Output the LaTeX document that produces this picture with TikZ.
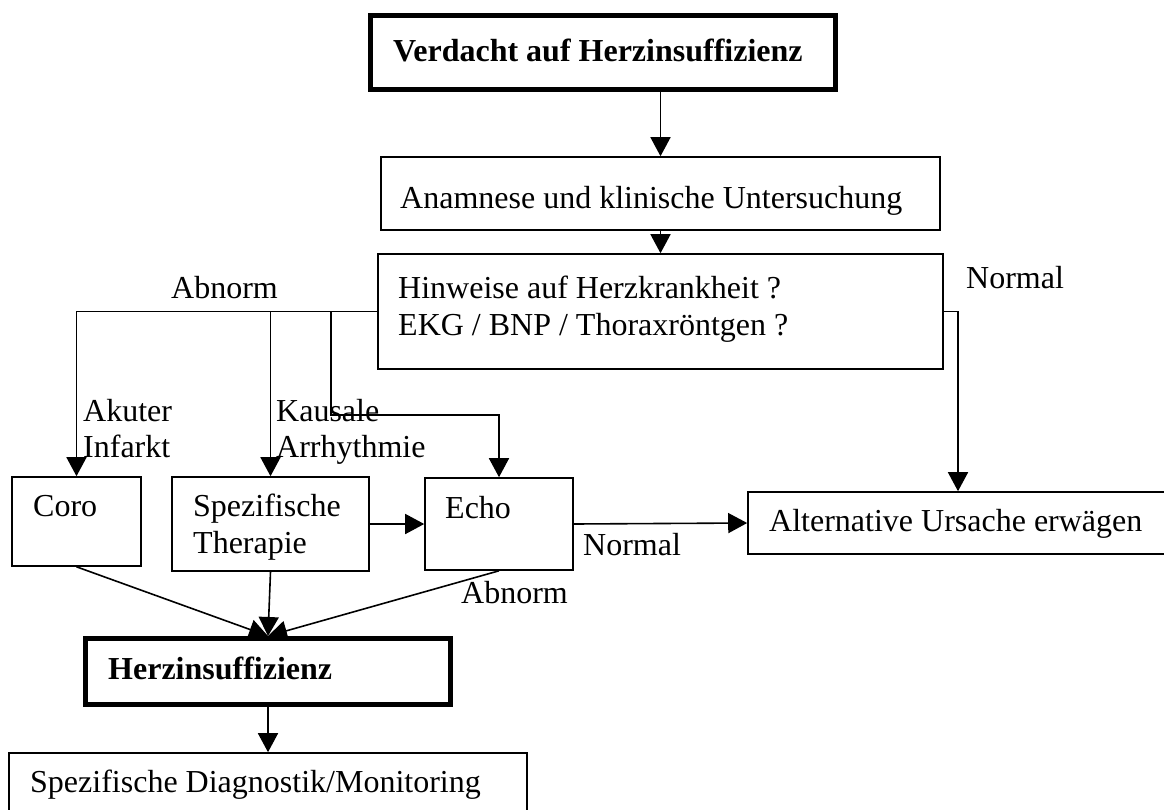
\documentclass[tikz,border=0pt]{standalone}
\usepackage{fontspec}
\setmainfont{Liberation Serif}
\usetikzlibrary{arrows.meta}
\begin{document}
\begin{tikzpicture}[x=1pt,y=-1pt,
  every node/.style={font=\fontsize{32}{37}\selectfont},
  box/.style={draw, line width=1.6pt, rectangle, inner sep=0pt},
  thickbox/.style={draw, line width=5pt, rectangle, inner sep=0pt},
  txt/.style={anchor=base west, inner sep=0pt},
  btxt/.style={anchor=base west, inner sep=0pt, font=\fontsize{32}{37}\selectfont\bfseries},
  conn/.style={line width=1.6pt},
  arr/.style={line width=1.6pt, -{Triangle[length=19pt,width=20pt]}}]
\useasboundingbox (0,0) rectangle (1164,809);
\clip (0,0) rectangle (1164,809);
\fill[white] (0,0) rectangle (1164,809);

% boxes
\node[thickbox, minimum width=465pt, minimum height=74pt] (v) at (603,52.5) {};
\node[box, minimum width=559pt, minimum height=73pt] (a) at (660.5,193.5) {};
\node[box, minimum width=565pt, minimum height=115pt] (h) at (660.5,311.5) {};
\node[box, minimum width=129pt, minimum height=89pt] (coro) at (76.5,521.5) {};
\node[box, minimum width=197pt, minimum height=94pt] (spez) at (270.5,524) {};
\node[box, minimum width=148pt, minimum height=92pt] (echo) at (499,524) {};
\node[box, minimum width=420pt, minimum height=62pt] (alt) at (958,523) {};
\node[thickbox, minimum width=365pt, minimum height=66pt] (herz) at (268,671.5) {};
\node[box, minimum width=518pt, minimum height=87pt] (diag) at (268,796.5) {};

% box texts
\node[btxt] (tv) at (393,61) {Verdacht auf Herzinsuffizienz};
\node[txt] (ta) at (400,208) {Anamnese und klinische Untersuchung};
\node[txt] (th1) at (398,298) {Hinweise auf Herzkrankheit ?};
\node[txt] (th2) at (398,335) {EKG / BNP / Thoraxröntgen ?};
\node[txt] (tcoro) at (33,516) {Coro};
\node[txt] (tspez1) at (193,516) {Spezifische};
\node[txt] (tspez2) at (193,553) {Therapie};
\node[txt] (techo) at (445,518) {Echo};
\node[txt] (talt) at (769,531) {Alternative Ursache erwägen};
\node[btxt] (therz) at (108,679) {Herzinsuffizienz};
\node[txt] (tdiag) at (30,792) {Spezifische Diagnostik/Monitoring};

% labels
\node[txt] (labn1) at (171,298) {Abnorm};
\node[txt] (lnorm1) at (966,288) {Normal};
\node[txt] (lak1) at (83,421) {Akuter};
\node[txt] (lak2) at (83,457) {Infarkt};
\node[txt] (lka1) at (276,421) {Kausale};
\node[txt] (lka2) at (276,457) {Arrhythmie};
\node[txt] (lnorm2) at (583,555) {Normal};
\node[txt] (labn2) at (461,603) {Abnorm};

% connectors
\coordinate (k) at (331,415);
\draw[arr] (a.north |- v.south) -- (a.north);
\draw[arr] (a.south) -- (h.north);
\draw[arr] (h.west) -| (coro.north);
\draw[arr] (h.west) -| (spez.north);
\draw[arr] (h.west) -| (k) -| (echo.north);
\draw[arr] (h.east) -| (alt.north);
\draw[arr] (spez.east) -- (echo.west);
\draw[arr] (echo.east) -- (alt.west);
\draw[arr] (coro.south) -- (herz.north);
\draw[arr] (spez.south) -- (herz.north);
\draw[arr] (echo.south) -- (herz.north);
\draw[arr] (herz.south) -- (diag.north);
\end{tikzpicture}
\end{document}
